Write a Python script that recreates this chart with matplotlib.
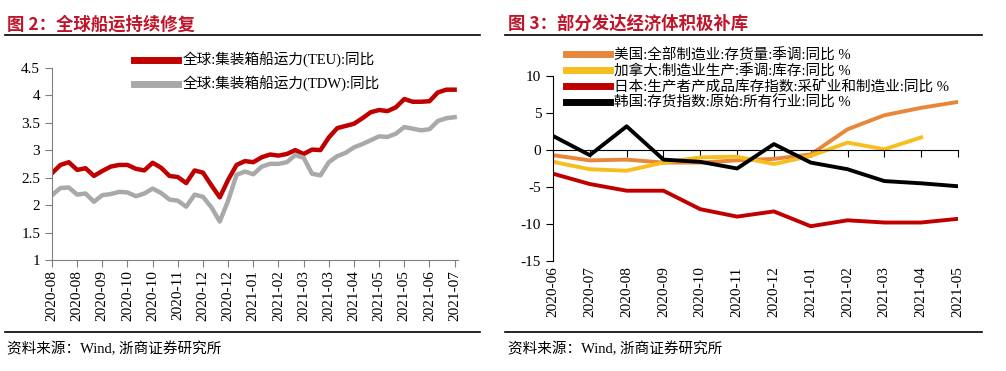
import numpy as np
import matplotlib
matplotlib.use("Agg")
import matplotlib.pyplot as plt
from matplotlib.lines import Line2D

plt.rcParams['font.family'] = ['Liberation Serif', 'Noto Sans CJK SC']
plt.rcParams['axes.unicode_minus'] = False

# -----------------------------------------
# Data
# -----------------------------------------

# left: weekly yoy of global container ship capacity
teu = [2.58, 2.73, 2.78, 2.64, 2.67, 2.53, 2.62, 2.70, 2.73, 2.73,
       2.66, 2.63, 2.77, 2.68, 2.53, 2.51, 2.40, 2.63, 2.59, 2.36,
       2.14, 2.46, 2.73, 2.80, 2.78, 2.87, 2.92, 2.90, 2.93, 3.00,
       2.93, 3.01, 3.00, 3.23, 3.40, 3.44, 3.48, 3.58, 3.69, 3.73,
       3.71, 3.78, 3.93, 3.88, 3.88, 3.89, 4.05, 4.10, 4.10]
tdw = [2.18, 2.31, 2.32, 2.19, 2.21, 2.06, 2.18, 2.20, 2.24, 2.23,
       2.16, 2.21, 2.30, 2.22, 2.10, 2.08, 1.97, 2.19, 2.15, 1.96,
       1.70, 2.08, 2.55, 2.61, 2.56, 2.70, 2.75, 2.75, 2.78, 2.91,
       2.86, 2.57, 2.54, 2.78, 2.89, 2.95, 3.05, 3.11, 3.18, 3.25,
       3.24, 3.30, 3.42, 3.39, 3.36, 3.38, 3.53, 3.58, 3.60]
left_ticklabels = ['2020-08', '2020-08', '2020-09', '2020-10', '2020-10', '2020-11',
                   '2020-12', '2020-12', '2021-01', '2021-02', '2021-03', '2021-03',
                   '2021-04', '2021-05', '2021-05', '2021-06', '2021-07']
left_names = ['全球:集装箱船运力(TEU):同比', '全球:集装箱船运力(TDW):同比']

# right: monthly inventory yoy
months = ['2020-06', '2020-07', '2020-08', '2020-09', '2020-10', '2020-11',
          '2020-12', '2021-01', '2021-02', '2021-03', '2021-04', '2021-05']
us = [-0.7, -1.4, -1.3, -1.7, -1.7, -1.4, -1.2, -0.6, 2.8, 4.7, 5.7, 6.5]
canada = [-1.6, -2.6, -2.8, -1.7, -1.0, -0.9, -1.9, -0.8, 1.0, 0.1, 1.7]
japan = [-3.2, -4.6, -5.5, -5.5, -8.0, -9.0, -8.3, -10.3, -9.5, -9.8, -9.8, -9.3]
korea = [1.9, -0.7, 3.2, -1.3, -1.6, -2.5, 0.8, -1.7, -2.6, -4.2, -4.5, -4.9]
right_names = ['美国:全部制造业:存货量:季调:同比 %',
               '加拿大:制造业生产:季调:库存:同比 %',
               '日本:生产者产成品库存指数:采矿业和制造业:同比 %',
               '韩国:存货指数:原始:所有行业:同比 %']

# -----------------------------------------
# Figure
# -----------------------------------------

fig = plt.figure(figsize=(10.06, 3.71), dpi=100)

title_color = '#C0142A'
cjk = ['Noto Sans CJK SC', 'DejaVu Sans']

# titles, rules, sources
fig.text(0.007, 0.935, '图 2：全球船运持续修复', color=title_color, fontsize=12.5,
         fontweight='bold', family=cjk, va='center')
fig.text(0.505, 0.935, '图 3：部分发达经济体积极补库', color=title_color, fontsize=12.5,
         fontweight='bold', family=cjk, va='center')
for x0, x1 in [(0.005, 0.477), (0.502, 0.976)]:
    fig.add_artist(Line2D([x0, x1], [1 - 35 / 371] * 2, color='black', lw=1.2))
    fig.add_artist(Line2D([x0, x1], [1 - 332 / 371] * 2, color='black', lw=1.2))
fig.text(0.007, 1 - 349 / 371, '资料来源：Wind, 浙商证券研究所', fontsize=10.5, va='center')
fig.text(0.505, 1 - 349 / 371, '资料来源：Wind, 浙商证券研究所', fontsize=10.5, va='center')

# ---- left chart ----
ax1 = fig.add_axes([52 / 1006, 1 - 260 / 371, 406 / 1006, (260 - 67.7) / 371])
xw = np.arange(len(teu))
ax1.plot(xw, teu, color='#C00000', lw=3.2, label=left_names[0], solid_joinstyle='round')
ax1.plot(xw, tdw, color='#A9A9A9', lw=3.2, label=left_names[1], solid_joinstyle='round')
ax1.set_xlim(0, 48.4)
ax1.set_ylim(1, 4.5)
ax1.set_yticks(np.arange(1, 4.51, 0.5))
ax1.set_yticklabels(['1', '1.5', '2', '2.5', '3', '3.5', '4', '4.5'])
ax1.set_xticks(np.arange(0, 49, 3))
ax1.set_xticklabels(left_ticklabels, rotation=90)
for s in ['top', 'right']:
    ax1.spines[s].set_visible(False)
for s in ['left', 'bottom']:
    ax1.spines[s].set_color('#808080')
ax1.tick_params(axis='both', direction='out', length=5, color='#808080', labelsize=11)
ax1.tick_params(axis='x', pad=2)
leg1 = ax1.legend(loc='upper left', bbox_to_anchor=(0.17, 1.15), frameon=False,
                  fontsize=10.5, handlelength=3.0, handletextpad=0.3, labelspacing=0.55)
for h in leg1.get_lines():
    h.set_linewidth(5)

# ---- right chart ----
ax2 = fig.add_axes([553 / 1006, 1 - 261 / 371, 405 / 1006, (261 - 76) / 371])
xm = np.arange(len(months))
ax2.plot(xm, us, color='#E8873A', lw=2.8, label=right_names[0])
ax2.plot(xm[:len(canada)], canada, color='#F7BE1F', lw=2.8, label=right_names[1])
ax2.plot(xm, japan, color='#C00000', lw=2.8, label=right_names[2])
ax2.plot(xm, korea, color='black', lw=2.8, label=right_names[3])
ax2.set_xlim(0, len(months) - 1)
ax2.set_ylim(-15, 10)
ax2.set_yticks([-15, -10, -5, 0, 5, 10])
ax2.spines['bottom'].set_position(('data', 0))
for s in ['top', 'right']:
    ax2.spines[s].set_visible(False)
ax2.set_xticks(xm)
ax2.tick_params(axis='x', direction='out', length=5, labelbottom=False)
ax2.tick_params(axis='y', direction='out', length=5, labelsize=11)
sec = ax2.secondary_xaxis('bottom')
sec.set_xticks(xm)
sec.set_xticklabels(months, rotation=90)
sec.spines['bottom'].set_visible(False)
sec.tick_params(axis='x', length=0, pad=4, labelsize=11)
leg2 = ax2.legend(loc='upper left', bbox_to_anchor=(0.0, 1.22), frameon=False,
                  fontsize=10.5, handlelength=3.0, handletextpad=0.3, labelspacing=0.12)
for h in leg2.get_lines():
    h.set_linewidth(5)

fig.savefig('out.png', dpi=100)
